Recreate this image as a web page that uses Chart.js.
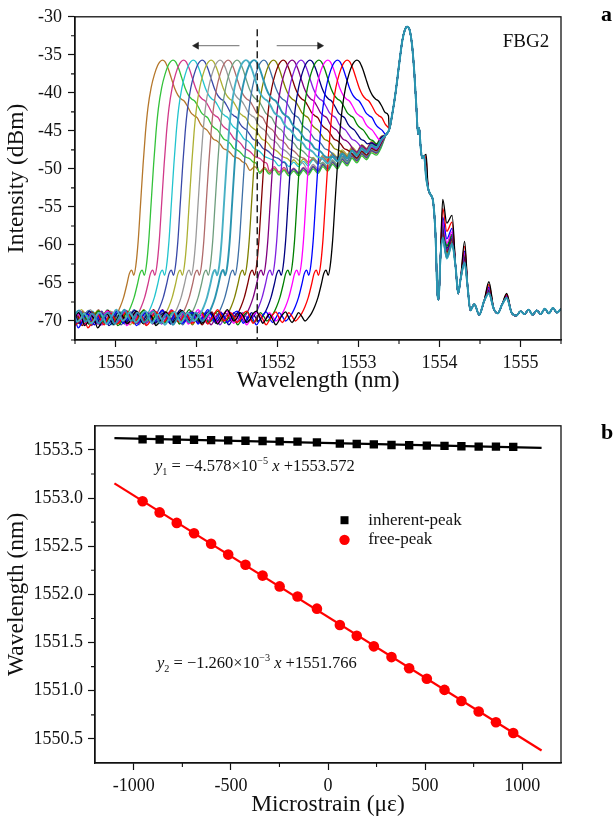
<!DOCTYPE html>
<html>
<head>
<meta charset="utf-8">
<script src="https://cdn.jsdelivr.net/npm/chart.js@4.4.0/dist/chart.umd.min.js"></script>
<style>
  html, body { margin: 0; padding: 0; background: #fff; }
  #wrap { position: relative; width: 615px; height: 819px; overflow: hidden; }
  #specCanvas { position: absolute; left: 0; top: 0; }
  #fitCanvas { position: absolute; left: 0; top: 410px; }
</style>
</head>
<body>
<div id="wrap">
  <canvas id="specCanvas" width="615" height="410"></canvas>
  <canvas id="fitCanvas" width="615" height="409"></canvas>
</div>
<script>
// ===== Panel a: FBG2 reflection spectra under strain =====
// peak wavelength (nm) of the strain-tuned reflection band, one per spectrum
const spectrumPeakNm = [1552.98, 1552.86, 1552.74, 1552.62, 1552.51, 1552.40, 1552.29, 1552.18,
  1552.07, 1551.95, 1551.83, 1551.71, 1551.61, 1551.50, 1551.39, 1551.29, 1551.18, 1551.07,
  1550.96, 1550.84, 1550.71, 1550.58];

// noise floor left of the band: [offset from band peak (nm), dB]
const baselineProfile = [
  [-3.60,-69.2],[-3.56,-69.9],[-3.52,-70.4],[-3.48,-69.6],[-3.44,-68.9],[-3.40,-69.5],[-3.36,-70.6],
  [-3.32,-70.1],[-3.28,-69.3],[-3.24,-69.8],[-3.20,-70.9],[-3.16,-70.3],[-3.12,-69.4],[-3.08,-69.1],
  [-3.04,-69.9],[-3.00,-70.5],[-2.96,-69.7],[-2.92,-69.0],[-2.88,-69.6],[-2.84,-70.4],[-2.80,-70.0],
  [-2.76,-69.2],[-2.72,-68.7],[-2.68,-69.5],[-2.64,-70.3],[-2.60,-69.8],[-2.56,-69.1],[-2.52,-69.7],
  [-2.48,-70.6],[-2.44,-70.2],[-2.40,-69.3],[-2.36,-68.8],[-2.32,-69.4],[-2.28,-70.2],[-2.24,-69.9],
  [-2.20,-69.0],[-2.16,-68.6],[-2.12,-69.3],[-2.08,-70.1],[-2.04,-69.7],[-2.00,-69.0],[-1.96,-69.5],
  [-1.92,-70.3],[-1.88,-70.0],[-1.84,-69.2],[-1.80,-68.9],[-1.76,-69.6],[-1.72,-70.4],[-1.68,-69.8],
  [-1.64,-69.1],[-1.60,-68.5],[-1.56,-69.2],[-1.52,-70.0],[-1.48,-69.6],[-1.44,-68.9],[-1.40,-69.4],
  [-1.36,-70.2],[-1.32,-69.8],[-1.28,-69.0],[-1.24,-68.7],[-1.20,-69.5],[-1.16,-70.3],[-1.12,-69.7],
  [-1.08,-69.1],[-1.04,-69.8],[-1.00,-70.5],[-0.96,-69.9],[-0.92,-69.2],[-0.88,-68.8],[-0.84,-69.6],
  [-0.80,-70.2],[-0.76,-69.6],[-0.72,-68.9],[-0.68,-69.4],[-0.64,-70.0]
];

// rising edge, band peak and slow decay: [offset from band peak (nm), dB]
const edgeProfile = [
  [-0.60,-69.6],[-0.56,-69.0],[-0.52,-68.1],[-0.48,-66.9],[-0.44,-65.2],[-0.41,-63.8],[-0.38,-63.3],
  [-0.355,-64.0],[-0.33,-62.8],[-0.30,-59.5],[-0.27,-54.5],[-0.24,-49.5],[-0.21,-45.2],[-0.18,-42.0],
  [-0.14,-39.3],[-0.10,-37.6],[-0.06,-36.4],[-0.03,-35.9],[0,-35.7],[0.03,-35.9],[0.07,-36.8],
  [0.11,-38.1],[0.15,-39.4],[0.19,-40.3],[0.23,-40.8],[0.27,-41.1],[0.31,-41.8],[0.35,-42.6],
  [0.39,-43.0],[0.43,-43.3],[0.47,-44.1],[0.51,-44.6],[0.55,-44.9],[0.59,-45.5],[0.63,-46.1],
  [0.67,-46.3],[0.71,-46.7],[0.75,-47.3],[0.79,-47.5],[0.83,-47.8],[0.87,-48.3],[0.91,-48.5],
  [0.95,-48.7],[0.99,-49.1],[1.03,-49.3]
];

// part common to all spectra: plateau, inherent peak and its side lobes [nm, dB]
const sharedSpectrum = [
  [1551.30,-49.0],[1551.36,-48.6],[1551.42,-49.1],[1551.48,-48.7],[1551.54,-49.3],[1551.60,-48.8],
  [1551.66,-49.4],[1551.72,-48.9],[1551.78,-49.6],[1551.84,-49.0],[1551.90,-49.7],[1551.96,-49.1],
  [1552.02,-49.8],[1552.08,-49.2],[1552.14,-49.9],[1552.20,-49.3],[1552.26,-49.9],[1552.32,-49.2],
  [1552.38,-49.8],[1552.44,-49.0],[1552.50,-49.6],[1552.56,-48.7],[1552.62,-49.3],[1552.68,-48.4],
  [1552.74,-49.0],[1552.80,-48.0],[1552.86,-48.6],[1552.92,-47.6],[1552.98,-48.2],[1553.04,-47.3],
  [1553.10,-47.8],[1553.16,-46.9],[1553.22,-47.2],[1553.28,-46.2],[1553.34,-45.5],[1553.38,-44.8],
  [1553.42,-42.6],[1553.46,-39.8],[1553.50,-36.4],[1553.54,-33.2],[1553.57,-31.8],[1553.60,-31.3],
  [1553.63,-31.7],[1553.66,-33.6],[1553.69,-37.5],[1553.715,-42.0],[1553.735,-45.4],[1553.75,-44.6],
  [1553.765,-46.8],[1553.785,-48.6],[1553.81,-48.3],[1553.835,-51.2],[1553.86,-52.6],[1553.89,-53.4],
  [1553.92,-54.2],[1553.95,-58.5],[1553.975,-66.5],[1553.99,-67.2],[1554.01,-62.0],[1554.04,-59.2],
  [1554.09,-61.8],[1554.155,-60.0],[1554.20,-63.0],[1554.23,-66.4],[1554.26,-64.5],[1554.31,-62.4],
  [1554.35,-65.8],[1554.38,-68.6],[1554.43,-67.8],[1554.49,-69.2],[1554.55,-67.4],[1554.61,-66.4],
  [1554.67,-68.4],[1554.72,-69.0],[1554.77,-67.9],[1554.83,-67.0],[1554.89,-68.9],[1554.95,-69.3],
  [1555.00,-68.7],[1555.05,-69.1],[1555.10,-68.5],[1555.15,-69.2],[1555.20,-68.6],[1555.25,-69.1],
  [1555.30,-68.4],[1555.35,-69.0],[1555.40,-68.3],[1555.45,-68.9],[1555.50,-68.4]
];

// side-lobe maxima and how strongly each one rises with the spectrum's lift
const lobeNm = [1553.835, 1554.04, 1554.09, 1554.155, 1554.31, 1554.61, 1554.83];
const lobeWeight = [0.6, 1, 0.9, 0.75, 0.55, 0.3, 0.12];
// side-lobe lift (dB) and plateau offset (dB) of each spectrum
const lobeLiftDb = [5.2, 4.0, 2.9, 2.3, 1.8, 1.5, 1.9, 1.2, 1.0, 0.8, 0.5, 0.2, 0, 0.5, 0.3, 0.4, 0.2, 0.3, 0.1, 0.2, 0.3, 0];
const floorOffsetDb = [0, 0, 0, 0, 0, 0.3, -0.2, 0.4, -0.4, 0.2, -0.3, 0, 0, -0.5, 0.3, -0.4, 0.5, -0.7, 0.2, -0.6, -1.0, -0.8];

const curveColors = ['#000000', '#FF0000', '#0000FF', '#FF00FF', '#008000', '#000080', '#7F1FDF', '#800080',
  '#800000', '#808000', '#3D6FA6', '#2A94B0', '#47B0C4', '#6E9E7E', '#B06B6B', '#9A9A9A', '#ADB033',
  '#3848A8', '#22C4CE', '#D1398A', '#33C23A', '#B5772B'];

const topXTicks = [1550, 1551, 1552, 1553, 1554, 1555];
const topXMinor = [1549.5, 1550.5, 1551.5, 1552.5, 1553.5, 1554.5, 1555.5];
const topYTicks = [-70, -65, -60, -55, -50, -45, -40, -35, -30];
const topYMinor = [-72.5, -67.5, -62.5, -57.5, -52.5, -47.5, -42.5, -37.5, -32.5];

// centre-wavelength marker and the two shift arrows
const centreMarkNm = 1551.75;
const centreMarkDb = [-31.65, -72.5];
const arrowLeftNm = [1551.53, 1551.0];
const arrowRightNm = [1551.99, 1552.52];
const arrowDb = -33.8;

// ===== Panel b: peak wavelength vs microstrain =====
const strainUe = [-955, -867, -779, -690, -602, -514, -425, -337, -249, -157, -57, 61, 148, 236, 327, 418, 509, 600, 687, 776, 865, 954];
const inherentPeakNm = [1553.609, 1553.608, 1553.605, 1553.605, 1553.602, 1553.599, 1553.595, 1553.592, 1553.588, 1553.585, 1553.578,
  1553.565, 1553.561, 1553.558, 1553.551, 1553.548, 1553.544, 1553.541, 1553.538, 1553.534, 1553.534, 1553.531];
const freePeakNm = [1552.967, 1552.851, 1552.742, 1552.634, 1552.525, 1552.413, 1552.307, 1552.195, 1552.083, 1551.978, 1551.852,
  1551.682, 1551.570, 1551.461, 1551.349, 1551.234, 1551.125, 1551.009, 1550.894, 1550.785, 1550.673, 1550.561];
const fitSpanUe = [-1100, 1100];
const fitInherent = { slope: -4.578e-5, intercept: 1553.572 };
const fitFree = { slope: -1.260e-3, intercept: 1551.766 };

const botXTicks = [-1000, -500, 0, 500, 1000];
const botXMinor = [-750, -250, 250, 750];
const botYTicks = [1550.5, 1551.0, 1551.5, 1552.0, 1552.5, 1553.0, 1553.5];
const botYMinor = [1550.75, 1551.25, 1551.75, 1552.25, 1552.75, 1553.25];

// ===== shared helpers =====
const SERIF = '"Liberation Serif", "Times New Roman", Times, serif';
Chart.defaults.font.family = SERIF;
Chart.defaults.color = '#111';
const INK = '#111';

function sharedValue(i, k) {
  const [x, v] = sharedSpectrum[k];
  let y = v;
  if (x < 1553.3) y += floorOffsetDb[i];
  const li = lobeNm.indexOf(x);
  if (li >= 0) y += lobeLiftDb[i] * lobeWeight[li];
  return y;
}

function nearestShared(i, x) {
  if (x < sharedSpectrum[0][0] - 0.03) return null;
  let best = 0, d = Infinity;
  sharedSpectrum.forEach((p, k) => {
    const dd = Math.abs(p[0] - x);
    if (dd < d) { d = dd; best = k; }
  });
  return sharedValue(i, best);
}

function spectrumPoints(i) {
  const p = spectrumPeakNm[i];
  const pts = baselineProfile.map(([o, v]) => ({ x: p + o, y: v }));
  for (const [o, v] of edgeProfile) {
    const x = p + o;
    if (o > 0) {
      const bg = nearestShared(i, x);
      if (bg !== null && v <= bg) break;
    }
    pts.push({ x, y: v });
  }
  const lastX = pts[pts.length - 1].x;
  sharedSpectrum.forEach(([x], k) => {
    if (x > lastX + 0.005) pts.push({ x, y: sharedValue(i, k) });
  });
  return pts;
}

// frame, minor ticks and free text
const framePlugin = {
  id: 'frameAndMinor',
  afterDraw(chart, args, opts) {
    const { ctx, chartArea: a, scales } = chart;
    ctx.save();
    ctx.strokeStyle = INK;
    ctx.lineWidth = 1.3;
    ctx.strokeRect(a.left, a.top, a.right - a.left, a.bottom - a.top);
    ctx.lineWidth = 1.1;
    ctx.beginPath();
    (opts.minorX || []).forEach(v => {
      const px = scales.x.getPixelForValue(v);
      ctx.moveTo(px, a.bottom); ctx.lineTo(px, a.bottom + 4);
    });
    (opts.minorY || []).forEach(v => {
      const py = scales.y.getPixelForValue(v);
      ctx.moveTo(a.left, py); ctx.lineTo(a.left - 4, py);
    });
    ctx.stroke();
    ctx.restore();
  }
};

function drawRich(ctx, x, y, parts, size) {
  ctx.textBaseline = 'alphabetic';
  ctx.textAlign = 'left';
  let cx = x;
  for (const part of parts) {
    const fs = part.s ? size * 0.62 : size;
    ctx.font = (part.i ? 'italic ' : '') + fs + 'px ' + SERIF;
    const dy = part.s === 'sub' ? size * 0.25 : part.s === 'sup' ? -size * 0.42 : 0;
    ctx.fillText(part.t, cx, y + dy);
    cx += ctx.measureText(part.t).width;
  }
}

function panelLetter(ctx, letter, y) {
  ctx.save();
  ctx.font = 'bold 22px ' + SERIF;
  ctx.fillStyle = '#000';
  ctx.textBaseline = 'middle';
  ctx.textAlign = 'left';
  ctx.fillText(letter, 601, y);
  ctx.restore();
}

function linearAxis(cfg) {
  return {
    type: 'linear',
    position: cfg.position,
    min: cfg.min, max: cfg.max,
    afterBuildTicks: s => { s.ticks = cfg.ticks.map(v => ({ value: v })); },
    afterFit: s => { if (cfg.width) s.width = cfg.width; if (cfg.height) s.height = cfg.height; },
    ticks: {
      autoSkip: false, maxRotation: 0, padding: cfg.padding,
      font: { size: 18 }, color: INK,
      callback: cfg.format
    },
    grid: { drawOnChartArea: false, drawTicks: true, tickLength: 7, tickColor: INK, tickWidth: 1.2 },
    border: { display: true, color: INK, width: 1.3 },
    title: { display: true, text: cfg.title, font: { size: 23.5 }, color: INK, padding: cfg.titlePad }
  };
}

// ===== build panel a =====
const specDatasets = spectrumPeakNm.map((p, i) => ({
  data: spectrumPoints(i),
  borderColor: curveColors[i],
  borderWidth: (i === 11 || i === 12) ? 1.9 : 1.3,
  pointRadius: 0,
  cubicInterpolationMode: 'monotone',
  order: (i === 11 || i === 12) ? 1 : 2 + i * 0.01
}));

specDatasets.push({
  data: centreMarkDb.map(y => ({ x: centreMarkNm, y })),
  borderColor: '#222', borderWidth: 1.5, borderDash: [7, 4], pointRadius: 0, order: 0
});
[[arrowLeftNm, -90], [arrowRightNm, 90]].forEach(([xs, rot]) => {
  specDatasets.push({
    data: xs.map(x => ({ x, y: arrowDb })),
    borderColor: '#8a8a8a', borderWidth: 1.3,
    pointRadius: [0, 4], pointStyle: 'triangle', pointRotation: rot,
    pointBackgroundColor: '#222', pointBorderColor: '#222', pointBorderWidth: 0.5,
    order: 0
  });
});

new Chart(document.getElementById('specCanvas'), {
  type: 'line',
  data: { datasets: specDatasets },
  options: {
    responsive: false, animation: false, events: [],
    layout: { padding: { left: 0, right: 54, top: 13, bottom: 0 } },
    plugins: {
      legend: { display: false }, tooltip: { enabled: false },
      frameAndMinor: { minorX: topXMinor, minorY: topYMinor }
    },
    scales: {
      x: linearAxis({ position: 'bottom', min: 1549.5, max: 1555.5, ticks: topXTicks, height: 70, padding: 5,
        format: v => String(v), title: 'Wavelength (nm)', titlePad: { top: 0, bottom: 15 } }),
      y: linearAxis({ position: 'left', min: -72.5, max: -30, ticks: topYTicks, width: 75, padding: 6,
        format: v => String(v), title: 'Intensity (dBm)', titlePad: { top: 3, bottom: 0 } })
    }
  },
  plugins: [framePlugin, {
    id: 'specText',
    afterDraw(chart) {
      const { ctx, scales } = chart;
      ctx.save();
      ctx.fillStyle = INK;
      ctx.font = '19px ' + SERIF;
      ctx.textBaseline = 'middle';
      ctx.textAlign = 'left';
      ctx.fillText('FBG2', scales.x.getPixelForValue(1554.78), scales.y.getPixelForValue(-33.26));
      ctx.restore();
      panelLetter(ctx, 'a', 15);
    }
  }]
});

// ===== build panel b =====
const fitLine = f => fitSpanUe.map(x => ({ x, y: f.intercept + f.slope * x }));

new Chart(document.getElementById('fitCanvas'), {
  type: 'line',
  data: {
    datasets: [
      { data: fitLine(fitInherent), borderColor: '#000', borderWidth: 2.2, pointRadius: 0, order: 3 },
      { data: fitLine(fitFree), borderColor: '#FF0000', borderWidth: 2.2, pointRadius: 0, order: 3 },
      { data: strainUe.map((x, i) => ({ x, y: inherentPeakNm[i] })), showLine: false,
        pointStyle: 'rect', pointRadius: 5.9, pointBackgroundColor: '#000', pointBorderColor: '#000', pointBorderWidth: 0, order: 1 },
      { data: strainUe.map((x, i) => ({ x, y: freePeakNm[i] })), showLine: false,
        pointStyle: 'circle', pointRadius: 5.3, pointBackgroundColor: '#FF0000', pointBorderColor: '#FF0000', pointBorderWidth: 0, order: 1 }
    ]
  },
  options: {
    responsive: false, animation: false, events: [],
    layout: { padding: { left: 0, right: 54, top: 12, bottom: 0 } },
    plugins: {
      legend: { display: false }, tooltip: { enabled: false },
      frameAndMinor: { minorX: botXMinor, minorY: botYMinor }
    },
    scales: {
      x: linearAxis({ position: 'bottom', min: -1200, max: 1200, ticks: botXTicks, height: 56, padding: 5,
        format: v => String(v), title: 'Microstrain (\u03BC\u03B5)', titlePad: { top: 0, bottom: 0 } }),
      y: linearAxis({ position: 'left', min: 1550.25, max: 1553.75, ticks: botYTicks, width: 95, padding: 5,
        format: v => v.toFixed(1), title: 'Wavelength (nm)', titlePad: { top: 3, bottom: 0 } })
    }
  },
  plugins: [framePlugin, {
    id: 'fitText',
    afterDraw(chart) {
      const { ctx, scales } = chart;
      const X = v => scales.x.getPixelForValue(v);
      const Y = v => scales.y.getPixelForValue(v);
      ctx.save();
      ctx.fillStyle = INK;
      drawRich(ctx, X(-891), Y(1553.28), [
        { t: 'y', i: true }, { t: '1', s: 'sub' }, { t: ' = \u22124.578\u00D710' }, { t: '\u22125', s: 'sup' },
        { t: ' ' }, { t: 'x', i: true }, { t: ' +1553.572' }
      ], 16.5);
      drawRich(ctx, X(-881), Y(1551.235), [
        { t: 'y', i: true }, { t: '2', s: 'sub' }, { t: ' = \u22121.260\u00D710' }, { t: '\u22123', s: 'sup' },
        { t: ' ' }, { t: 'x', i: true }, { t: ' +1551.766' }
      ], 16.5);
      // legend
      const mx = X(85);
      ctx.fillStyle = '#000';
      ctx.fillRect(mx - 4, Y(1552.77) - 4, 8, 8);
      ctx.fillStyle = '#FF0000';
      ctx.beginPath(); ctx.arc(mx, Y(1552.566), 5.2, 0, Math.PI * 2); ctx.fill();
      ctx.fillStyle = INK;
      ctx.font = '17px ' + SERIF;
      ctx.textBaseline = 'middle';
      ctx.textAlign = 'left';
      ctx.fillText('inherent-peak', X(207), Y(1552.77));
      ctx.fillText('free-peak', X(207), Y(1552.566));
      ctx.restore();
      panelLetter(ctx, 'b', 23);
    }
  }]
});
</script>
</body>
</html>
